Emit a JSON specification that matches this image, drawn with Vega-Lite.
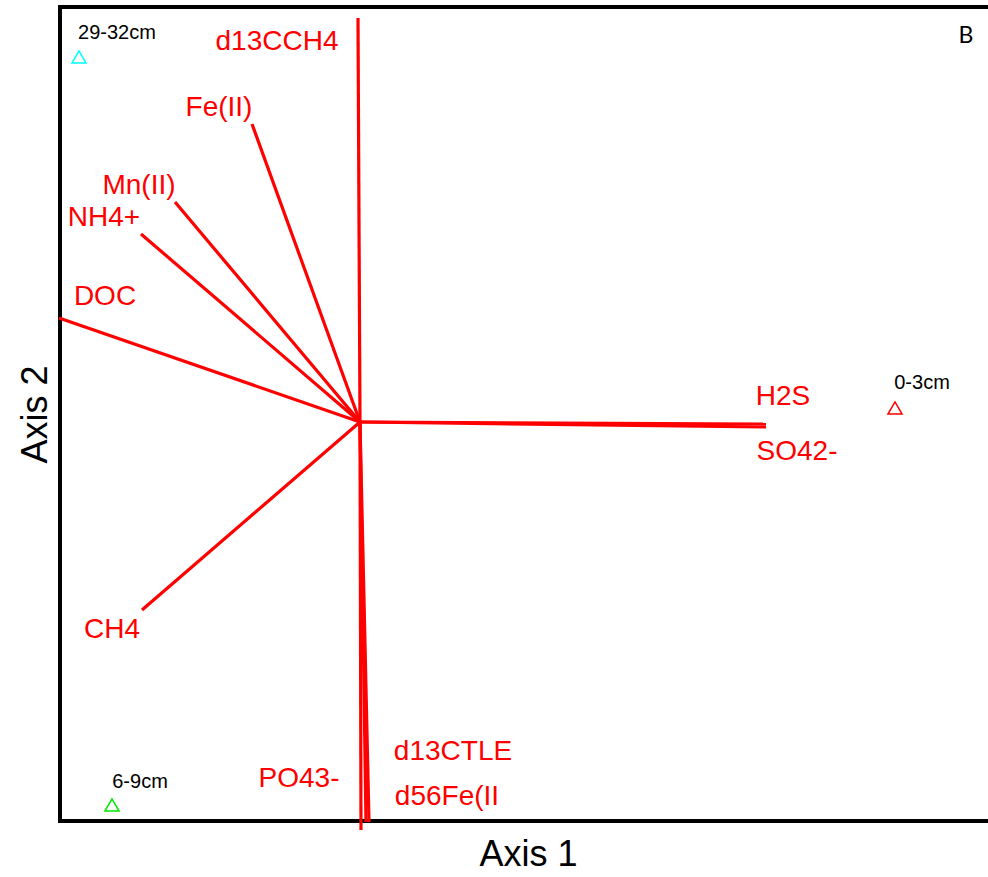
{
  "$schema": "https://vega.github.io/schema/vega-lite/v6.json",
  "autosize": "none",
  "padding": {"left": 60, "top": 7, "right": 0, "bottom": 56},
  "width": 936,
  "height": 814,
  "background": "white",
  "config": {
    "view": {"stroke": "black", "strokeWidth": 4},
    "font": "Liberation Sans"
  },
  "datasets": {
    "vectors": [
      {"var": "d13CCH4", "x0": 0, "y0": 0, "x": -0.02, "y": 4.04},
      {"var": "Fe(II)", "x0": 0, "y0": 0, "x": -1.08, "y": 2.98},
      {"var": "Mn(II)", "x0": 0, "y0": 0, "x": -1.85, "y": 2.2},
      {"var": "NH4+", "x0": 0, "y0": 0, "x": -2.19, "y": 1.88},
      {"var": "DOC", "x0": 0, "y0": 0, "x": -3.01, "y": 1.04},
      {"var": "CH4", "x0": 0, "y0": 0, "x": -2.18, "y": -1.88},
      {"var": "H2S", "x0": 0, "y0": 0, "x": 4.06, "y": -0.05},
      {"var": "SO42-", "x0": 0, "y0": 0, "x": 4.06, "y": -0.02},
      {"var": "PO43-", "x0": 0, "y0": 0, "x": 0.01, "y": -4.08},
      {"var": "d13CTLE", "x0": 0, "y0": 0, "x": 0.06, "y": -4.0},
      {"var": "d56Fe(II", "x0": 0, "y0": 0, "x": 0.09, "y": -4.0}
    ],
    "vlabels": [
      {"label": "d13CCH4", "x": -0.83, "y": 3.8},
      {"label": "Fe(II)", "x": -1.41, "y": 3.14},
      {"label": "Mn(II)", "x": -2.21, "y": 2.36},
      {"label": "NH4+", "x": -2.56, "y": 2.04},
      {"label": "DOC", "x": -2.55, "y": 1.25},
      {"label": "CH4", "x": -2.48, "y": -2.08},
      {"label": "H2S", "x": 4.23, "y": 0.25},
      {"label": "SO42-", "x": 4.37, "y": -0.3},
      {"label": "PO43-", "x": -0.61, "y": -3.57},
      {"label": "d13CTLE", "x": 0.93, "y": -3.3},
      {"label": "d56Fe(II", "x": 0.87, "y": -3.75}
    ],
    "samples": [
      {"sample": "29-32cm", "x": -2.81, "y": 3.65, "lx": -2.43, "ly": 3.89},
      {"sample": "0-3cm", "x": 5.35, "y": 0.14, "lx": 5.62, "ly": 0.39},
      {"sample": "6-9cm", "x": -2.48, "y": -3.83, "lx": -2.2, "ly": -3.6}
    ],
    "panel": [{"tag": "B", "x": 6.06, "y": 3.86}]
  },
  "encoding": {
    "x": {
      "field": "x", "type": "quantitative",
      "scale": {"domain": [-3.0, 6.36], "nice": false, "zero": false},
      "axis": {"title": "Axis 1", "labels": false, "ticks": false, "domain": false, "grid": false,
               "titleFont": "Liberation Sans", "titleFontSize": 36, "titleFontWeight": "normal",
               "titleColor": "black", "titlePadding": 16}
    },
    "y": {
      "field": "y", "type": "quantitative",
      "scale": {"domain": [-3.99, 4.15], "nice": false, "zero": false},
      "axis": {"title": "Axis 2", "labels": false, "ticks": false, "domain": false, "grid": false,
               "titleFont": "Liberation Sans", "titleFontSize": 36, "titleFontWeight": "normal",
               "titleColor": "black", "titlePadding": 6}
    }
  },
  "layer": [
    {
      "data": {"name": "vectors"},
      "mark": {"type": "rule", "color": "#ff0000", "strokeWidth": 3.2, "clip": false},
      "encoding": {
        "x": {"field": "x0", "type": "quantitative"},
        "y": {"field": "y0", "type": "quantitative"},
        "x2": {"field": "x"},
        "y2": {"field": "y"}
      }
    },
    {
      "data": {"name": "vlabels"},
      "mark": {"type": "text", "color": "#ff0000", "fontSize": 28, "font": "Liberation Sans", "align": "center", "baseline": "middle"},
      "encoding": {"text": {"field": "label"}}
    },
    {
      "data": {"name": "samples"},
      "mark": {"type": "point", "shape": "triangle-up", "filled": false, "size": 200, "strokeWidth": 1.5},
      "encoding": {
        "color": {"field": "sample", "type": "nominal",
                  "scale": {"domain": ["29-32cm", "0-3cm", "6-9cm"], "range": ["#00ffff", "#ff0000", "#00e600"]},
                  "legend": null},
        "opacity": {"value": 1}
      }
    },
    {
      "data": {"name": "samples"},
      "mark": {"type": "text", "color": "black", "fontSize": 20, "font": "Liberation Sans", "align": "center", "baseline": "middle"},
      "encoding": {
        "x": {"field": "lx", "type": "quantitative"},
        "y": {"field": "ly", "type": "quantitative"},
        "text": {"field": "sample"}
      }
    },
    {
      "data": {"name": "panel"},
      "mark": {"type": "text", "color": "black", "fontSize": 23, "font": "Lato", "align": "center", "baseline": "middle"},
      "encoding": {"text": {"field": "tag"}}
    }
  ]
}
